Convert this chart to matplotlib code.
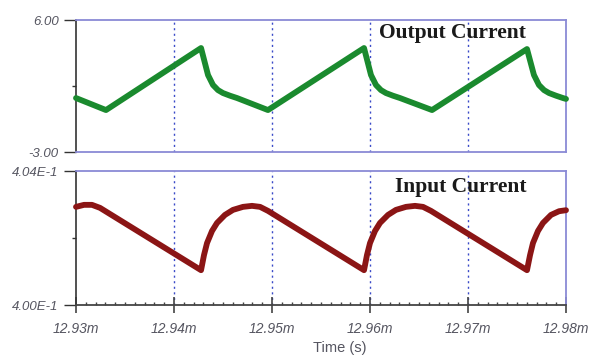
import numpy as np
import matplotlib
matplotlib.use("Agg")
import matplotlib.pyplot as plt
from matplotlib.ticker import MultipleLocator, FixedLocator

# output current (A) vs time (ms)
t_out = [12.93000, 12.93306, 12.94276, 12.94347, 12.94398, 12.94449, 12.94500, 12.94571, 12.94643,
         12.94959,
         12.95939, 12.96010, 12.96061, 12.96112, 12.96163, 12.96234, 12.96306, 12.96633,
         12.97602, 12.97673, 12.97724, 12.97776, 12.97827, 12.97898, 12.97969, 12.98000]
i_out = [0.68, -0.14, 4.09, 2.25, 1.57, 1.22, 1.02, 0.84, 0.68,
         -0.14,
         4.09, 2.25, 1.57, 1.22, 1.02, 0.84, 0.68, -0.14,
         4.02, 2.25, 1.57, 1.22, 1.02, 0.84, 0.68, 0.62]

# input current (A) vs time (ms)
t_in = [12.93000, 12.93082, 12.93163, 12.93245, 12.94276, 12.94306, 12.94337, 12.94388,
        12.94439, 12.94520, 12.94602, 12.94704, 12.94796, 12.94878, 12.94959,
        12.95939, 12.95969, 12.96000, 12.96051, 12.96102, 12.96184, 12.96265,
        12.96367, 12.96459, 12.96541, 12.96622,
        12.97602, 12.97633, 12.97663, 12.97714, 12.97765, 12.97847, 12.97929, 12.98000]
i_in = [0.40293, 0.40299, 0.40299, 0.40290, 0.40104, 0.40149, 0.40185, 0.40221,
        0.40245, 0.40269, 0.40284, 0.40293, 0.40296, 0.40293, 0.40281,
        0.40104, 0.40149, 0.40185, 0.40221, 0.40245, 0.40269, 0.40284,
        0.40293, 0.40296, 0.40293, 0.40281,
        0.40104, 0.40149, 0.40185, 0.40221, 0.40245, 0.40269, 0.40280, 0.40283]

x_ticks = [12.93, 12.94, 12.95, 12.96, 12.97, 12.98]
x_labels = ["12.93m", "12.94m", "12.95m", "12.96m", "12.97m", "12.98m"]

frame = "#8a8ad6"
grid = "#3a4ac8"
tick_txt = "#555560"

fig = plt.figure(figsize=(6.09, 3.58), dpi=100)
ax1 = fig.add_axes([0.1248, 0.5754, 0.8046, 0.3687])
ax2 = fig.add_axes([0.1248, 0.1480, 0.8046, 0.3743])


def style(ax, ylo, yhi, ylabels, bottom_axis):
    ax.set_xlim(12.93, 12.98)
    ax.set_ylim(ylo, yhi)
    for s in ["top", "right", "bottom"]:
        ax.spines[s].set_color(frame)
        ax.spines[s].set_linewidth(1.3)
    ax.spines["left"].set_color("#333333")
    ax.spines["left"].set_linewidth(1.2)
    ax.yaxis.set_major_locator(FixedLocator([ylo, yhi]))
    ax.set_yticklabels(ylabels, fontsize=9.5, style="italic", color=tick_txt,
                       family="Liberation Sans")
    ax.yaxis.set_minor_locator(FixedLocator([(ylo + yhi) / 2]))
    ax.tick_params(axis="y", which="major", length=9, color="#333333", width=1)
    ax.tick_params(axis="y", which="minor", length=3, color="#333333", width=1)
    ax.xaxis.set_major_locator(FixedLocator(x_ticks))
    for x in x_ticks[1:-1]:
        ax.axvline(x, color=grid, lw=1.0, ls=(0, (1.5, 2.5)), zorder=1)
    if bottom_axis:
        ax.spines["bottom"].set_color("#444444")
        ax.spines["bottom"].set_linewidth(1.3)
        ax.set_xticklabels(x_labels, fontsize=10, style="italic", color=tick_txt,
                           family="Liberation Sans")
        ax.xaxis.set_minor_locator(MultipleLocator(0.001))
        ax.tick_params(axis="x", which="major", direction="inout", length=12,
                       color="#444444", width=1.2, pad=6)
        ax.tick_params(axis="x", which="minor", direction="in", length=2.5,
                       color="#444444", width=1)
    else:
        ax.tick_params(axis="x", which="both", length=0, labelbottom=False)


style(ax1, -3.0, 6.0, ["-3.00", "6.00"], False)
style(ax2, 0.400, 0.404, ["4.00E-1", "4.04E-1"], True)

ax1.plot(t_out, i_out, color="#1a8a2e", lw=4.2, solid_joinstyle="round",
         solid_capstyle="round", zorder=3, clip_on=False)
ax2.plot(t_in, i_in, color="#8b1515", lw=4.2, solid_joinstyle="round",
         solid_capstyle="round", zorder=3, clip_on=False)

ax1.text(0.769, 0.905, "Output Current", transform=ax1.transAxes, ha="center",
         va="center", fontsize=15.5, fontweight="bold", family="Liberation Serif",
         color="#1a1a1a")
ax2.text(0.786, 0.88, "Input Current", transform=ax2.transAxes, ha="center",
         va="center", fontsize=15.5, fontweight="bold", family="Liberation Serif",
         color="#1a1a1a")

fig.text(0.558, 0.008, "Time (s)", ha="center", va="bottom", fontsize=10.5,
         color=tick_txt, family="Liberation Sans")

fig.savefig("out.png", dpi=100)
